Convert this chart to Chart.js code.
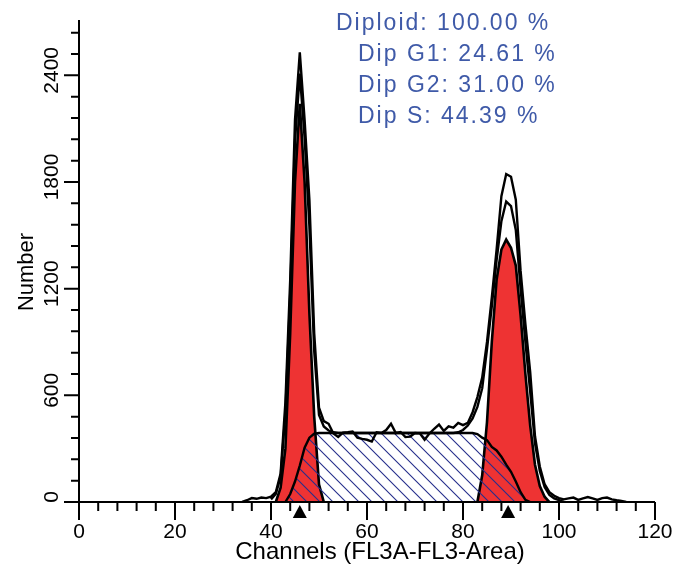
<!DOCTYPE html>
<html>
<head>
<meta charset="utf-8">
<title>Histograma ciclo celular</title>
<script src="https://cdn.jsdelivr.net/npm/chart.js@4.4.1/dist/chart.umd.min.js"></script>
<style>
  html, body { margin: 0; padding: 0; background: #fff; }
  canvas { display: block; }
</style>
</head>
<body>
<canvas id="histograma" width="674" height="565"></canvas>
<script>
// datos (canal -> número de eventos)
const rawChannels = [34, 35, 36, 37, 38, 39, 40, 41, 42, 43, 44, 45, 46, 47, 48, 49, 50, 51, 52, 53, 54, 55, 56, 57, 58, 59, 60, 61, 62, 63, 64, 65, 66, 67, 68, 69, 70, 71, 72, 73, 74, 75, 76, 77, 78, 79, 80, 81, 82, 83, 84, 85, 86, 87, 88, 89, 90, 91, 92, 93, 94, 95, 96, 97, 98, 99, 100, 101, 102, 103, 104, 105, 106, 107, 108, 109, 110, 111, 112, 113, 114];
const rawCounts = [0, 10, 22, 18, 25, 22, 30, 55, 160, 560, 1250, 2150, 2530, 2150, 1700, 950, 530, 455, 440, 385, 366, 390, 392, 396, 362, 355, 350, 340, 392, 388, 405, 440, 388, 394, 365, 368, 388, 386, 350, 385, 412, 436, 400, 425, 418, 445, 432, 445, 505, 590, 700, 900, 1150, 1420, 1720, 1845, 1830, 1700, 1300, 1000, 730, 370, 200, 100, 55, 35, 22, 15, 20, 25, 12, 20, 28, 20, 12, 22, 25, 15, 10, 6, 0];

const fitChannels = [40, 41, 42, 43, 44, 45, 46, 47, 48, 49, 50, 51, 52, 53, 54, 55, 56, 57, 58, 59, 60, 61, 62, 63, 64, 65, 66, 67, 68, 69, 70, 71, 72, 73, 74, 75, 76, 77, 78, 79, 80, 81, 82, 83, 84, 85, 86, 87, 88, 89, 90, 91, 92, 93, 94, 95, 96, 97, 98, 99, 100, 101];
const fitCounts = [15, 45, 140, 500, 1170, 2030, 2410, 2050, 1550, 850, 490, 425, 402, 392, 388, 388, 388, 388, 388, 388, 388, 388, 388, 388, 388, 388, 388, 388, 388, 388, 388, 388, 388, 388, 388, 388, 388, 388, 388, 392, 405, 430, 470, 535, 640, 860, 1100, 1360, 1580, 1690, 1665, 1530, 1200, 900, 620, 330, 175, 85, 40, 20, 10, 0];

const g1Channels = [41, 42, 43, 44, 45, 46, 47, 48, 49, 50, 51];
const g1Counts = [0, 80, 300, 950, 1800, 2240, 1800, 1060, 480, 100, 0];

const g2Channels = [83, 84, 85, 86, 87, 88, 89, 90, 91, 92, 93, 94, 95, 96, 97, 98];
const g2Counts = [0, 150, 450, 900, 1250, 1420, 1476, 1430, 1330, 1050, 720, 430, 210, 90, 30, 0];

const sChannels = [43, 44, 45, 46, 47, 48, 49, 50, 51, 52, 53, 54, 55, 56, 57, 58, 59, 60, 61, 62, 63, 64, 65, 66, 67, 68, 69, 70, 71, 72, 73, 74, 75, 76, 77, 78, 79, 80, 81, 82, 83, 84, 85, 86, 87, 88, 89, 90, 91, 92, 93, 94];
const sCounts = [0, 45, 115, 205, 305, 362, 384, 388, 388, 388, 388, 388, 388, 388, 388, 388, 388, 388, 388, 388, 388, 388, 388, 388, 388, 388, 388, 388, 388, 388, 388, 388, 388, 388, 388, 388, 388, 388, 388, 388, 382, 362, 348, 310, 290, 255, 210, 170, 115, 55, 12, 0];

// marcadores de pico (triángulos bajo el eje)
const markerChannels = [46, 89.4];

const xTickValues = [0, 20, 40, 60, 80, 100, 120];
const xTickLabels = ["0", "20", "40", "60", "80", "100", "120"];
const yTickValues = [0, 600, 1200, 1800, 2400];
const yTickLabels = ["0", "600", "1200", "1800", "2400"];

const statLabels = ["Diploid: 100.00 %", "Dip G1: 24.61 %", "Dip G2: 31.00 %", "Dip S: 44.39 %"];

const X_MAX = 120;
const Y_MAX = 2700;
const FUENTE = '"Liberation Sans", Arial, sans-serif';

function pares(canales, cuentas) {
  return canales.map((c, i) => ({ x: c, y: cuentas[i] }));
}

// patrón de rayado diagonal para la fase S
function crearRayado() {
  const t = 13;
  const c = document.createElement("canvas");
  c.width = t;
  c.height = t;
  const g = c.getContext("2d");
  g.strokeStyle = "#262f8c";
  g.lineWidth = 1.1;
  g.beginPath();
  g.moveTo(-1, -1); g.lineTo(t + 1, t + 1);
  g.moveTo(-1, t - 1); g.lineTo(1, t + 1);
  g.moveTo(t - 1, -1); g.lineTo(t + 1, 1);
  g.stroke();
  return g.createPattern(c, "repeat");
}

// ejes, marcas, etiquetas y textos
const ejesPlugin = {
  id: "ejes",
  afterDatasetsDraw(chart) {
    const { ctx } = chart;
    const sx = chart.scales.x;
    const sy = chart.scales.y;
    const base = sy.getPixelForValue(0);
    const izq = sx.getPixelForValue(0);

    ctx.save();
    ctx.strokeStyle = "#000";
    ctx.fillStyle = "#000";
    ctx.lineWidth = 2;

    ctx.beginPath();
    ctx.moveTo(izq, sy.getPixelForValue(Y_MAX) - 2);
    ctx.lineTo(izq, base);
    ctx.lineTo(sx.getPixelForValue(X_MAX), base);
    ctx.stroke();

    // marcas eje x: menores cada 4, mayores cada 20
    ctx.beginPath();
    for (let v = 0; v <= X_MAX; v += 4) {
      const px = sx.getPixelForValue(v);
      const largo = v % 20 === 0 ? 18 : 9;
      ctx.moveTo(px, base);
      ctx.lineTo(px, base + largo);
    }
    // marcas eje y: menores cada 120, mayores cada 600
    for (let v = 0; v <= 2640; v += 120) {
      const py = sy.getPixelForValue(v);
      const largo = v % 600 === 0 ? 15 : 8;
      ctx.moveTo(izq, py);
      ctx.lineTo(izq - largo, py);
    }
    ctx.stroke();

    // triángulos de pico
    markerChannels.forEach(c => {
      const px = sx.getPixelForValue(c);
      ctx.beginPath();
      ctx.moveTo(px, base + 3);
      ctx.lineTo(px - 7, base + 16);
      ctx.lineTo(px + 7, base + 16);
      ctx.closePath();
      ctx.fill();
    });

    // etiquetas
    ctx.font = "21px " + FUENTE;
    ctx.textAlign = "center";
    ctx.textBaseline = "middle";
    xTickValues.forEach((v, i) => {
      ctx.fillText(xTickLabels[i], sx.getPixelForValue(v), 532);
    });
    yTickValues.forEach((v, i) => {
      ctx.save();
      ctx.translate(52, sy.getPixelForValue(v) - 5);
      ctx.rotate(-Math.PI / 2);
      ctx.fillText(yTickLabels[i], 0, 0);
      ctx.restore();
    });

    ctx.font = "24px " + FUENTE;
    ctx.fillText("Channels (FL3A-FL3-Area)", 380, 552);

    ctx.save();
    ctx.font = "22px " + FUENTE;
    ctx.translate(27, 272);
    ctx.rotate(-Math.PI / 2);
    ctx.fillText("Number", 0, 0);
    ctx.restore();

    // resumen del ajuste
    ctx.font = "23px " + FUENTE;
    ctx.fillStyle = "#3f5aa8";
    ctx.textAlign = "left";
    ctx.textBaseline = "alphabetic";
    ctx.letterSpacing = "2px";
    const xs = [336, 358, 358, 358];
    statLabels.forEach((t, i) => {
      ctx.fillText(t, xs[i], 30 + i * 31);
    });
    ctx.restore();
  }
};

const rayado = crearRayado();
const ctx = document.getElementById("histograma").getContext("2d");

new Chart(ctx, {
  type: "line",
  data: {
    datasets: [
      {
        label: "Datos",
        data: pares(rawChannels, rawCounts),
        borderColor: "#000",
        borderWidth: 2.4,
        fill: false,
        order: 1
      },
      {
        label: "Ajuste",
        data: pares(fitChannels, fitCounts),
        borderColor: "#000",
        borderWidth: 2.4,
        fill: false,
        order: 2
      },
      {
        label: "Dip S",
        data: pares(sChannels, sCounts),
        borderColor: "#000",
        borderWidth: 2.4,
        backgroundColor: rayado,
        fill: "origin",
        order: 3
      },
      {
        label: "Dip G2",
        data: pares(g2Channels, g2Counts),
        borderColor: "#000",
        borderWidth: 2.6,
        backgroundColor: "#ee3333",
        fill: "origin",
        order: 4
      },
      {
        label: "Dip G1",
        data: pares(g1Channels, g1Counts),
        borderColor: "#000",
        borderWidth: 2.6,
        backgroundColor: "#ee3333",
        fill: "origin",
        order: 5
      }
    ]
  },
  options: {
    responsive: false,
    animation: false,
    layout: { padding: { left: 79, right: 19, top: 22, bottom: 63 } },
    elements: {
      point: { radius: 0 },
      line: { tension: 0 }
    },
    plugins: {
      legend: { display: false },
      tooltip: { enabled: false }
    },
    scales: {
      x: { type: "linear", min: 0, max: X_MAX, display: false },
      y: { min: 0, max: Y_MAX, display: false }
    }
  },
  plugins: [ejesPlugin]
});
</script>
</body>
</html>
